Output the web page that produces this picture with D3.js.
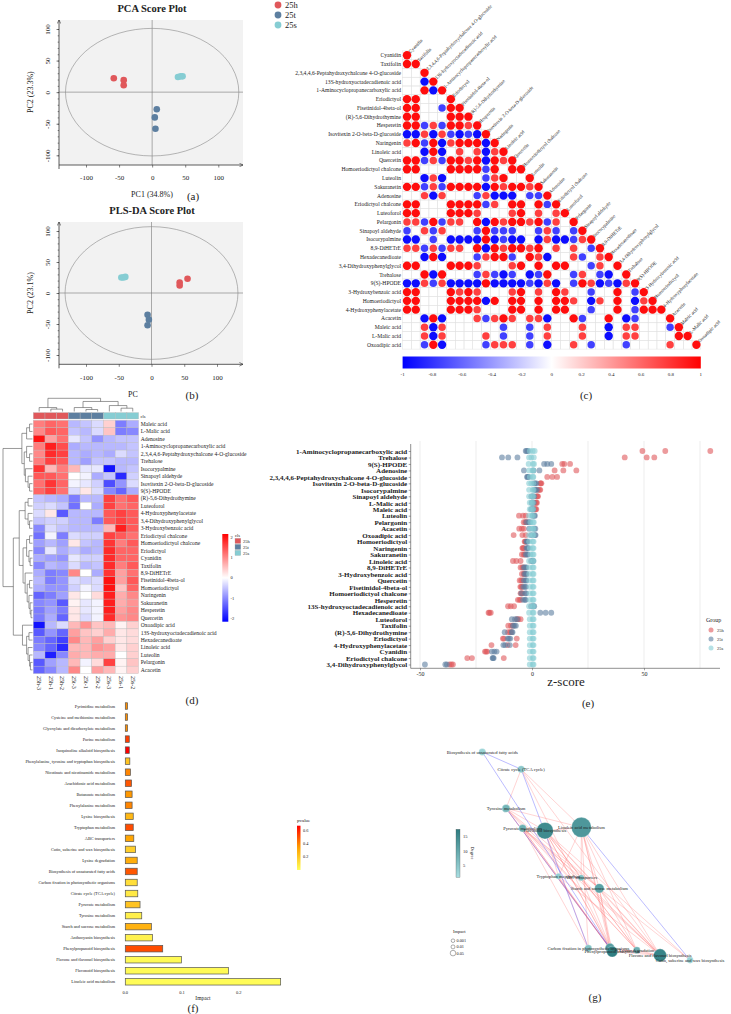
<!DOCTYPE html>
<meta charset="utf-8">
<script src="https://d3js.org/d3.v7.min.js"></script>
<style>
body { margin: 0; background: #fff; }
svg text { font-family: "Liberation Serif", "Times New Roman", serif; fill: #222; }
</style>
<div id="fig"></div>
<script>

// ---------------- data ----------------
var groups = ["25h", "25t", "25s"];
var groupColor = {"25h": "#e0585b", "25t": "#5d7fa0", "25s": "#86cdd3"};

// (a) PCA and (b) PLS-DA scores  [comp1, comp2]
var pcaH = [[-58, 22], [-43, 19], [-43, 11]];
var pcaT = [[7, -27], [4, -40], [5, -58]];
var pcaS = [[39, 24], [43, 25], [46, 25]];
var plsH = [[43, 17], [43, 12], [55, 23]];
var plsT = [[-6, -35], [-4, -43], [-6, -52]];
var plsS = [[-46, 25], [-43, 25], [-40, 26]];

// (c) correlation matrix, lower triangle (0 = not significant)
var corrNames = ["Cyanidin", "Taxifolin", "2,3,4,4,6-Peptahydroxychalcone 4-O-glucoside", "13S-hydroxyoctadecadienoic acid",
  "1-Aminocyclopropanecarboxylic acid", "Eriodictyol", "Fisetinidol-4beta-ol", "(R)-5,6-Dihydrothymine", "Hesperetin",
  "Isovitexin 2-O-beta-D-glucoside", "Naringenin", "Linoleic acid", "Quercetin", "Homoeriodictyol chalcone", "Luteolin",
  "Sakuranetin", "Adenosine", "Eriodictyol chalcone", "Luteoforol", "Pelargonin", "Sinapoyl aldehyde", "Isocorypalmine",
  "8,9-DiHETrE", "Hexadecanedioate", "3,4-Dihydroxyphenylglycol", "Trehalose", "9(S)-HPODE", "3-Hydroxybenzoic acid",
  "Homoeriodictyol", "4-Hydroxyphenylacetate", "Acacetin", "Maleic acid", "L-Malic acid", "Oxoadipic acid"];
var corrRows = [
  [.95],
  [.95,.95],
  [0,0,.95],
  [0,0,-.95,.95],
  [0,0,.95,-.95,.95],
  [.95,.95,0,0,0,.95],
  [.95,.95,0,0,-.75,.95,.95],
  [.95,.95,0,0,0,.95,.95,.95],
  [.95,.95,-.75,.75,-.75,.95,.95,.75,.95],
  [-.95,-.95,.75,-.95,.75,-.75,-.95,-.75,-.95,.95],
  [.75,.95,-.75,.95,-.95,.75,.95,.95,.95,-.95,.95],
  [0,0,-.95,.95,-.95,0,.75,0,.75,-.95,.75,.95],
  [.95,.95,-.75,.75,-.75,.95,.95,.75,.95,-.95,.95,.75,.95],
  [.95,.95,0,0,0,.95,.95,.95,.95,-.75,.95,0,.95,.95],
  [0,0,-.95,.75,-.95,0,0,0,0,-.75,.75,.95,0,0,.95],
  [.95,.95,-.75,.75,-.75,.95,.95,.95,.95,-.95,.95,.75,.95,.95,.75,.95],
  [0,0,.75,-.95,.75,0,0,0,-.75,.75,-.95,-.95,-.95,0,-.75,-.75,.95],
  [.95,.95,0,0,0,.95,.95,.95,.95,-.75,.75,0,.95,.95,0,.95,-.75,.95],
  [.95,.95,0,0,0,.95,.95,.95,.75,0,0,0,.75,.95,0,.75,0,.75,.95],
  [.75,.75,-.75,.95,-.75,.75,.75,0,.95,-.95,.95,.75,.95,.95,.75,.95,-.75,.75,0,.95],
  [-.75,0,.75,-.75,.75,0,0,0,-.75,.95,-.75,-.75,-.75,0,0,-.75,.75,-.75,0,-.75,.95],
  [-.95,-.95,0,-.75,0,-.95,-.95,-.95,-.95,.95,-.95,-.75,-.95,-.95,0,-.95,.75,-.95,-.95,-.75,.75,.95],
  [.75,.75,-.75,.75,-.75,.75,.75,0,.95,-.95,.95,.75,.95,.95,.75,.95,0,.75,0,.75,0,-.75,.95],
  [0,0,-.95,.95,-.95,0,0,0,-.75,.75,.95,.95,-.75,0,.95,.75,-.95,0,0,.75,-.75,0,.75,.95],
  [.95,.95,0,0,0,.95,.95,.95,.75,0,0,0,.75,.95,0,.95,0,.95,.95,0,0,-.75,.75,0,.95],
  [0,0,.95,-.95,.95,0,0,0,-.75,.75,-.75,-.95,-.75,0,-.95,-.75,.95,0,0,-.75,.75,0,-.75,-.95,0,.95],
  [-.95,-.95,.75,-.75,.75,-.95,-.95,-.95,-.95,.95,-.95,-.95,-.95,-.95,-.75,-.95,.75,-.95,0,-.75,.95,.75,-.95,-.75,-.95,.75,.95],
  [.95,.95,0,0,0,.95,.75,.95,.75,0,0,0,.75,.95,0,.75,0,.95,.75,0,0,-.75,0,0,.95,0,-.75,.95],
  [.95,.95,0,0,0,.95,.95,.95,.95,-.95,.95,0,.95,.95,0,.95,0,.95,.95,.75,0,-.95,.75,0,.95,0,-.95,.75,.95],
  [.95,.95,0,0,0,.95,.95,.95,.75,0,0,0,.95,.95,0,.95,0,.95,.95,0,0,-.75,0,0,.95,0,-.75,.95,.95,.95],
  [0,0,-.95,.95,-.95,0,0,0,.75,-.75,.75,.95,.75,0,.75,.75,-.95,0,0,.95,-.75,0,0,.95,0,-.95,-.75,0,0,0,.95],
  [0,0,.75,-.95,.75,0,0,0,0,0,0,-.75,0,0,-.75,0,.75,0,0,0,.75,0,0,-.95,0,.75,.75,0,0,0,-.75,.95],
  [0,0,.75,-.95,.75,0,0,0,0,.75,0,-.75,0,0,-.75,0,.75,0,0,0,.75,0,0,-.95,0,.75,.75,0,0,0,0,.95,.95],
  [0,0,-.75,.95,-.95,0,0,0,0,-.75,.75,.75,.75,0,-.75,0,-.95,0,0,.75,0,-.75,0,0,0,-.75,0,0,0,0,.75,0,0,.95]
];
var corrTicks = [-1, -0.8, -0.6, -0.4, -0.2, 0, 0.2, 0.4, 0.6, 0.8, 1];

// (d) heatmap (row z-scores)
var hmRows = ["Maleic acid", "L-Malic acid", "Adenosine", "1-Aminocyclopropanecarboxylic acid",
  "2,3,4,4,6-Peptahydroxychalcone 4-O-glucoside", "Trehalose", "Isocorypalmine", "Sinapoyl aldehyde",
  "Isovitexin 2-O-beta-D-glucoside", "9(S)-HPODE", "(R)-5,6-Dihydrothymine", "Luteoforol", "4-Hydroxyphenylacetate",
  "3,4-Dihydroxyphenylglycol", "3-Hydroxybenzoic acid", "Eriodictyol chalcone", "Homoeriodictyol chalcone", "Eriodictyol",
  "Cyanidin", "Taxifolin", "8,9-DiHETrE", "Fisetinidol-4beta-ol", "Homoeriodictyol", "Naringenin", "Sakuranetin",
  "Hesperetin", "Quercetin", "Oxoadipic acid", "13S-hydroxyoctadecadienoic acid", "Hexadecanedioate", "Linoleic acid",
  "Luteolin", "Pelargonin", "Acacetin"];
var hmCols = ["25h-3", "25h-1", "25h-2", "25t-3", "25t-1", "25t-2", "25s-3", "25s-1", "25s-2"];
var hmColGroup = ["25h", "25h", "25h", "25t", "25t", "25t", "25s", "25s", "25s"];
var hmValues = [
  [1.1,1.3,1.2,-0.6,-0.5,-0.3,0.4,-1.1,-0.7],
  [1.0,1.4,1.3,-0.5,-0.6,-0.3,0.5,-1.1,-1.0],
  [2.0,0.8,1.2,-0.2,-0.5,-0.9,-0.6,-0.5,-0.5],
  [1.1,1.9,1.5,-0.7,-0.6,-0.6,-0.6,-0.6,-0.5],
  [1.0,1.8,1.6,-0.6,-0.7,-0.6,-0.7,-0.3,-0.5],
  [1.1,1.6,1.4,-0.6,-0.8,-0.5,-0.5,-0.6,-0.6],
  [1.7,0.6,1.1,0.6,-0.2,-0.2,-2.0,-0.6,-0.5],
  [1.4,1.4,1.2,0.0,-0.1,-0.7,-0.5,-1.8,-0.4],
  [1.2,1.7,1.3,-0.1,-0.2,-0.4,-1.5,-0.9,-0.3],
  [1.3,1.6,1.2,-0.3,0.2,-0.3,-1.0,-1.3,-0.7],
  [-0.5,-0.6,-0.7,-1.1,-0.6,-0.6,1.6,1.2,1.4],
  [-0.4,-0.3,-0.5,-1.2,0.0,-0.7,1.6,1.2,1.3],
  [-0.3,0.2,-1.4,-0.6,-0.6,-0.6,1.4,1.6,1.4],
  [-0.5,-0.4,-0.4,-0.6,-0.6,-1.1,1.4,1.6,1.4],
  [-1.0,-0.3,-0.5,-0.6,-0.6,-0.6,0.6,1.9,1.4],
  [-1.2,-0.1,-1.1,-0.3,-0.4,-0.4,1.6,1.4,1.2],
  [-0.8,-0.6,-0.8,0.2,-0.5,-0.6,1.7,1.1,1.4],
  [-1.0,-0.2,-0.7,-0.5,-0.7,-0.6,1.8,1.3,1.3],
  [-0.7,-0.8,-0.9,-0.2,-0.4,-0.4,1.8,1.3,1.3],
  [-1.0,-0.6,-0.7,-0.3,-0.6,-0.5,1.8,1.1,1.4],
  [-0.7,-1.1,-1.0,1.0,0.0,-0.7,1.7,0.8,1.2],
  [-0.6,-1.1,-0.9,-0.3,-0.4,-0.3,2.0,0.8,1.4],
  [-0.7,-0.9,-0.9,-0.4,-0.1,-0.3,2.0,0.5,1.3],
  [-1.3,-1.1,-0.8,0.2,0.0,0.3,1.9,0.7,1.0],
  [-1.0,-0.9,-1.4,0.1,-0.2,-0.1,1.9,0.7,0.9],
  [-1.1,-0.8,-1.1,0.2,-0.2,-0.1,1.9,0.8,1.0],
  [-1.1,-0.7,-1.3,0.2,-0.3,-0.1,1.8,0.9,1.0],
  [-2.0,-0.6,-0.3,0.6,0.9,0.5,0.6,0.1,0.4],
  [-1.4,-0.9,-1.3,0.8,0.5,0.4,0.7,0.2,0.3],
  [-1.1,-1.3,-1.6,1.0,0.6,0.8,0.4,0.2,0.3],
  [-1.0,-1.3,-1.8,0.6,0.6,0.9,0.8,0.2,0.4],
  [-0.6,-1.9,-1.0,0.7,0.6,0.7,0.7,0.0,0.4],
  [-1.4,-0.8,-0.6,0.6,-0.1,0.3,1.6,0.1,0.5],
  [-1.3,-1.0,-0.6,1.0,0.0,0.8,0.6,0.1,0.4]
];
// dendrograms: [height, left, right], leaves are row / column indices
var rowTree = [10,
  [3.6, [2, [1, 0, 1], 2], [2.8, [2, 3, [1, 4, 5]], [2.4, 6, [1.5, 7, [1, 8, 9]]]]],
  [6.5,
    [4.5, [2.5, [1.5, 10, 11], [1.5, 12, [1, 13, 14]]],
          [3.2, [2, [1, 15, 16], [1.2, 17, [0.8, 18, 19]]], [2.5, 20, [1.8, [1, 21, 22], [1.2, 23, [0.8, 24, [0.5, 25, 26]]]]]]],
    [3.4, 27, [2, [1.2, 28, 29], [1.5, 30, [1, 31, [0.7, 32, 33]]]]]]];
var colTree = [10, [3, 0, [1.8, 1, 2]], [7.6, [3, 3, [1.5, 4, 5]], [4.5, 6, [2.5, 7, 8]]]];
var hmTicks = [2, 1, 0, -1, -2];

// (e) z-scores, three samples per group
var zNames = ["1-Aminocyclopropanecarboxylic acid", "Trehalose", "9(S)-HPODE", "Adenosine",
  "2,3,4,4,6-Peptahydroxychalcone 4-O-glucoside", "Isovitexin 2-O-beta-D-glucoside", "Isocorypalmine", "Sinapoyl aldehyde",
  "L-Malic acid", "Maleic acid", "Luteolin", "Pelargonin", "Acacetin", "Oxoadipic acid", "Homoeriodictyol", "Naringenin",
  "Sakuranetin", "Linoleic acid", "8,9-DiHETrE", "3-Hydroxybenzoic acid", "Quercetin", "Fisetinidol-4beta-ol",
  "Homoeriodictyol chalcone", "Hesperetin", "13S-hydroxyoctadecadienoic acid", "Hexadecanedioate", "Luteoforol",
  "Taxifolin", "(R)-5,6-Dihydrothymine", "Eriodictyol", "4-Hydroxyphenylacetate", "Cyanidin", "Eriodictyol chalcone",
  "3,4-Dihydroxyphenylglycol"];
var zH = [[49.3,59.5,79.6],[41.4,51.2,54.6],[13.5,14.4,17.0],[10.1,14.0,19.8],[6.8,9.1,11.2],[3.7,3.9,4.2],[2.7,3.4,3.7],
  [2.1,2.4,2.7],[1.6,1.9,2.2],[1.3,1.6,1.9],[-5.8,-4.0,-2.8],[-3.7,-3.0,-2.5],[-5.7,-4.5,-3.7],[-8.2,-4.3,-2.8],
  [-3.3,-3.0,-2.8],[-4.3,-4.0,-3.7],[-4.5,-3.7,-3.2],[-8.5,-7.0,-5.1],[-5.1,-4.3,-3.8],[-4.5,-3.7,-3.2],[-5.5,-4.8,-4.2],
  [-5.2,-4.8,-4.4],[-5.1,-4.6,-4.2],[-6.3,-5.6,-5.0],[-10.7,-9.5,-8.0],[-19.4,-19.0,-18.4],[-6.8,-6.1,-5.1],
  [-10.6,-9.4,-8.5],[-10.7,-9.8,-9.3],[-13.0,-12.5,-6.8],[-18.1,-10.9,-7.3],[-21.0,-20.5,-20.0],[-28.9,-26.8,-12.6],
  [-36.8,-36.0,-35.3]];
var zT = [[-2.8,-2.4,-1.8],[-13.4,-10.6,-6.5],[5.4,6.8,8.6],[-3.6,0.7,3.3],[-2.2,-2.0,-1.6],[1.0,1.5,2.0],[1.2,1.7,2.2],
  [-0.3,0.4,1.0],[-0.2,0.3,0.8],[-0.4,0.1,0.6],[0.4,1.0,1.3],[-2.5,-1.5,-1.0],[-1.3,1.0,1.5],[-0.4,1.3,1.6],
  [-2.5,-2.2,-2.0],[-2.5,-2.0,-1.7],[-2.8,-2.2,-1.8],[-0.4,0.3,0.6],[-3.6,-3.0,-2.5],[-3.4,-2.8,-2.4],[-3.6,-2.8,-2.5],
  [-3.9,-3.1,-2.7],[-4.8,-3.0,-2.6],[-4.0,-3.1,-2.8],[-0.4,0.6,1.0],[3.7,6.1,8.6],[-9.0,-7.6,-6.6],[-8.5,-7.8,-7.2],
  [-12.2,-9.0,-8.7],[-10.9,-10.3,-9.7],[-12.8,-12.0,-9.9],[-17.9,-16.8,-15.8],[-17.6,-17.4,-17.1],[-47.8,-38.7,-38.0]];
var zS = [[-1.0,0.3,1.2],[-1.3,-0.3,0.8],[-1.5,0.4,0.9],[-1.3,0.2,0.6],[-1.0,0.4,0.6],[-1.3,-0.3,0.6],[-1.3,0.3,0.7],
  [-1.3,0.1,0.6],[-1.0,-0.1,0.4],[-1.0,-0.1,0.5],[-1.3,-0.1,0.5],[-0.7,0.4,0.8],[-0.7,0.4,0.8],[-1.3,0.3,0.7],
  [-1.3,0.3,0.7],[-1.0,0.3,0.7],[-0.7,0.3,0.7],[-1.3,0.3,0.7],[-1.3,0.3,0.7],[-1.3,0.3,0.7],[-1.3,0.3,0.7],
  [-1.0,0.3,0.7],[-1.0,0.3,0.7],[-1.0,0.3,0.7],[-1.3,0.3,0.7],[-1.3,0.3,0.7],[-1.0,0.3,0.7],[-1.0,0.3,0.7],
  [-1.0,0.3,0.7],[-1.0,0.3,0.7],[-1.0,0.3,0.7],[-1.0,0.3,0.7],[-1.0,0.3,0.7],[-1.0,0.3,0.7]];
var zGrid = [-50, -25, 0, 25, 50, 75];

// (f) pathway impact and p value
var pathNames = ["Pyrimidine metabolism", "Cysteine and methionine metabolism", "Glyoxylate and dicarboxylate metabolism",
  "Purine metabolism", "Isoquinoline alkaloid biosynthesis", "Phenylalanine, tyrosine and tryptophan biosynthesis",
  "Nicotinate and nicotinamide metabolism", "Arachidonic acid metabolism", "Butanoate metabolism",
  "Phenylalanine metabolism", "Lysine biosynthesis", "Tryptophan metabolism", "ABC transporters",
  "Cutin, suberine and wax biosynthesis", "Lysine degradation", "Biosynthesis of unsaturated fatty acids",
  "Carbon fixation in photosynthetic organisms", "Citrate cycle (TCA cycle)", "Pyruvate metabolism",
  "Tyrosine metabolism", "Starch and sucrose metabolism", "Anthocyanin biosynthesis", "Phenylpropanoid biosynthesis",
  "Flavone and flavonol biosynthesis", "Flavonoid biosynthesis", "Linoleic acid metabolism"];
var pathImpact = [0.004, 0.004, 0.004, 0.007, 0.007, 0.008, 0.009, 0.011, 0.012, 0.012, 0.014, 0.014, 0.015, 0.018,
  0.021, 0.021, 0.021, 0.022, 0.026, 0.029, 0.046, 0.048, 0.066, 0.099, 0.182, 0.274];
var pathP = [0.38, 0.38, 0.38, 0.55, 0.68, 0.22, 0.4, 0.5, 0.36, 0.4, 0.26, 0.52, 0.33, 0.18, 0.3, 0.5, 0.12, 0.08,
  0.22, 0.06, 0.28, 0.05, 0.52, 0.02, 0.02, 0.01];
var pTicks = [0.2, 0.4, 0.6];

// (g) pathway network: layout position (0-100), impact, degree
var netNodes = [
  {name: "Biosynthesis of unsaturated fatty acids", px: 15.1, py: 5.0, impact: 0.021, degree: 3},
  {name: "Citrate cycle (TCA cycle)", px: 29.0, py: 12.2, impact: 0.022, degree: 5},
  {name: "Tyrosine metabolism", px: 23.6, py: 28.5, impact: 0.029, degree: 8},
  {name: "Pyruvate metabolism", px: 29.5, py: 36.8, impact: 0.026, degree: 9},
  {name: "Flavonoid biosynthesis", px: 37.5, py: 37.8, impact: 0.182, degree: 15},
  {name: "Linoleic acid metabolism", px: 50.5, py: 36.4, impact: 0.274, degree: 13},
  {name: "Tryptophan metabolism", px: 42.3, py: 56.8, impact: 0.014, degree: 4},
  {name: "ABC transporters", px: 50.4, py: 57.4, impact: 0.015, degree: 6},
  {name: "Starch and sucrose metabolism", px: 56.9, py: 61.8, impact: 0.046, degree: 11},
  {name: "Carbon fixation in photosynthetic organisms", px: 53.0, py: 86.8, impact: 0.021, degree: 6},
  {name: "Anthocyanin biosynthesis", px: 60.7, py: 86.7, impact: 0.048, degree: 12},
  {name: "Phenylpropanoid biosynthesis", px: 61.5, py: 88.2, impact: 0.066, degree: 17},
  {name: "Lysine degradation", px: 70.3, py: 87.6, impact: 0.021, degree: 9},
  {name: "Flavone and flavonol biosynthesis", px: 78.6, py: 89.7, impact: 0.099, degree: 16},
  {name: "Cutin, suberine and wax biosynthesis", px: 89.3, py: 91.7, impact: 0.018, degree: 3}
];
var netLabels = {"Anthocyanin biosynthesis": ""};
var netPos = [
  ["Citrate cycle (TCA cycle)", "Tyrosine metabolism"], ["Citrate cycle (TCA cycle)", "Linoleic acid metabolism"],
  ["Citrate cycle (TCA cycle)", "Flavone and flavonol biosynthesis"], ["Citrate cycle (TCA cycle)", "Phenylpropanoid biosynthesis"],
  ["Tyrosine metabolism", "Flavonoid biosynthesis"], ["Tyrosine metabolism", "Linoleic acid metabolism"],
  ["Tyrosine metabolism", "Phenylpropanoid biosynthesis"], ["Tyrosine metabolism", "Anthocyanin biosynthesis"],
  ["Tyrosine metabolism", "Flavone and flavonol biosynthesis"], ["Tyrosine metabolism", "Lysine degradation"],
  ["Tyrosine metabolism", "Starch and sucrose metabolism"],
  ["Pyruvate metabolism", "Flavonoid biosynthesis"], ["Pyruvate metabolism", "Phenylpropanoid biosynthesis"],
  ["Pyruvate metabolism", "Flavone and flavonol biosynthesis"], ["Pyruvate metabolism", "Lysine degradation"],
  ["Pyruvate metabolism", "Anthocyanin biosynthesis"], ["Pyruvate metabolism", "Starch and sucrose metabolism"],
  ["Pyruvate metabolism", "ABC transporters"], ["Pyruvate metabolism", "Carbon fixation in photosynthetic organisms"],
  ["Flavonoid biosynthesis", "Linoleic acid metabolism"], ["Flavonoid biosynthesis", "Tryptophan metabolism"],
  ["Flavonoid biosynthesis", "ABC transporters"], ["Flavonoid biosynthesis", "Starch and sucrose metabolism"],
  ["Flavonoid biosynthesis", "Phenylpropanoid biosynthesis"], ["Flavonoid biosynthesis", "Anthocyanin biosynthesis"],
  ["Flavonoid biosynthesis", "Lysine degradation"], ["Flavonoid biosynthesis", "Flavone and flavonol biosynthesis"],
  ["Flavonoid biosynthesis", "Carbon fixation in photosynthetic organisms"], ["Flavonoid biosynthesis", "Cutin, suberine and wax biosynthesis"],
  ["Linoleic acid metabolism", "Tryptophan metabolism"], ["Linoleic acid metabolism", "ABC transporters"],
  ["Linoleic acid metabolism", "Starch and sucrose metabolism"], ["Linoleic acid metabolism", "Phenylpropanoid biosynthesis"],
  ["Linoleic acid metabolism", "Anthocyanin biosynthesis"], ["Linoleic acid metabolism", "Lysine degradation"],
  ["Linoleic acid metabolism", "Flavone and flavonol biosynthesis"], ["Linoleic acid metabolism", "Carbon fixation in photosynthetic organisms"],
  ["Tryptophan metabolism", "Phenylpropanoid biosynthesis"], ["Tryptophan metabolism", "Flavone and flavonol biosynthesis"],
  ["ABC transporters", "Phenylpropanoid biosynthesis"], ["ABC transporters", "Flavone and flavonol biosynthesis"],
  ["ABC transporters", "Lysine degradation"],
  ["Starch and sucrose metabolism", "Phenylpropanoid biosynthesis"], ["Starch and sucrose metabolism", "Flavone and flavonol biosynthesis"],
  ["Starch and sucrose metabolism", "Anthocyanin biosynthesis"], ["Starch and sucrose metabolism", "Lysine degradation"],
  ["Starch and sucrose metabolism", "Cutin, suberine and wax biosynthesis"],
  ["Phenylpropanoid biosynthesis", "Flavone and flavonol biosynthesis"], ["Phenylpropanoid biosynthesis", "Lysine degradation"],
  ["Anthocyanin biosynthesis", "Flavone and flavonol biosynthesis"], ["Lysine degradation", "Flavone and flavonol biosynthesis"]
];
var netNeg = [
  ["Biosynthesis of unsaturated fatty acids", "Citrate cycle (TCA cycle)"],
  ["Biosynthesis of unsaturated fatty acids", "Phenylpropanoid biosynthesis"],
  ["Citrate cycle (TCA cycle)", "Carbon fixation in photosynthetic organisms"],
  ["Tyrosine metabolism", "Anthocyanin biosynthesis"],
  ["Linoleic acid metabolism", "Cutin, suberine and wax biosynthesis"]
];
var degreeTicks = [5, 10, 15];
var impactLegend = [0.001, 0.01, 0.05];

// ---------------- drawing ----------------
var svg = d3.select("#fig").append("svg").attr("width", 731).attr("height", 1014);
var defs = svg.append("defs");
defs.append("marker").attr("id", "arr").attr("viewBox", "0 0 8 8").attr("refX", 7).attr("refY", 4)
  .attr("markerWidth", 6).attr("markerHeight", 6).attr("orient", "auto")
  .append("path").attr("d", "M1,1 L7,4 L1,7").attr("fill", "none").attr("stroke", "#333").attr("stroke-width", 1);

function label(x, y, txt, size, opts) {
  opts = opts || {};
  return svg.append("text").attr("x", x).attr("y", y).attr("font-size", size)
    .attr("text-anchor", opts.anchor || "middle").attr("font-weight", opts.bold ? "bold" : null).text(txt);
}

// ----- (a) / (b) score plots -----
function scorePlot(o) {
  var g = svg.append("g");
  var x = d3.scaleLinear().domain([-100, 100]).range(o.xr);
  var y = d3.scaleLinear().domain([-100, 100]).range(o.yr);
  g.append("rect").attr("x", o.left).attr("y", o.top).attr("width", o.right - o.left).attr("height", o.bottom - o.top)
    .attr("fill", "#f2f2f2");
  g.append("line").attr("x1", x(0)).attr("x2", x(0)).attr("y1", o.top).attr("y2", o.bottom).attr("stroke", "#777").attr("stroke-width", 0.6);
  g.append("line").attr("x1", o.left).attr("x2", o.right).attr("y1", y(0)).attr("y2", y(0)).attr("stroke", "#777").attr("stroke-width", 0.6);
  g.append("ellipse").attr("cx", x(0)).attr("cy", y(0)).attr("rx", x(o.ell[0]) - x(0)).attr("ry", y(0) - y(o.ell[1]))
    .attr("fill", "none").attr("stroke", "#888").attr("stroke-width", 0.6);

  var xa = g.append("g").attr("transform", "translate(0," + o.bottom + ")")
    .call(d3.axisBottom(x).tickValues([-100, -50, 0, 50, 100]).tickSize(2.5).tickPadding(8).tickFormat(String));
  xa.select(".domain").remove();
  xa.selectAll("text").attr("font-size", 7).attr("font-family", "Liberation Serif");
  var ya = g.append("g").attr("transform", "translate(" + o.left + ",0)")
    .call(d3.axisLeft(y).tickValues([-100, -50, 0, 50, 100]).tickSize(2.5).tickFormat(String));
  ya.select(".domain").remove();
  ya.selectAll("text").attr("x", 0).attr("y", -9).attr("dy", 0).attr("text-anchor", "middle")
    .attr("transform", "rotate(-90)").attr("font-size", 7).attr("font-family", "Liberation Serif");
  var ym = g.append("g").attr("transform", "translate(" + o.left + ",0)")
    .call(d3.axisLeft(y).tickValues(d3.range(-100, 101, 10)).tickSize(1.3).tickFormat(""));
  ym.select(".domain").remove();
  g.selectAll(".tick line").attr("stroke", "#333").attr("stroke-width", 0.6);
  g.append("line").attr("x1", o.left).attr("x2", o.right).attr("y1", o.bottom).attr("y2", o.bottom)
    .attr("stroke", "#333").attr("stroke-width", 0.8).attr("marker-end", "url(#arr)");
  g.append("line").attr("x1", o.left).attr("x2", o.left).attr("y1", o.bottom + 4).attr("y2", o.top)
    .attr("stroke", "#333").attr("stroke-width", 0.8).attr("marker-end", "url(#arr)");

  [["25h", o.h], ["25t", o.t], ["25s", o.s]].forEach(function(p) {
    g.selectAll(null).data(p[1]).join("circle")
      .attr("cx", function(d) { return x(d[0]); }).attr("cy", function(d) { return y(d[1]); })
      .attr("r", 3.3).attr("fill", groupColor[p[0]]);
  });
  label(152, o.title[1], o.title[0], 10.5, {bold: true});
  label(o.xlab[1], o.xlab[2], o.xlab[0], 8);
  svg.append("text").attr("transform", "translate(33," + y(0) + ") rotate(-90)").attr("text-anchor", "middle")
    .attr("font-size", 8).text(o.ylab);
  label(o.tag[1], o.tag[2], o.tag[0], 11);
}

scorePlot({xr: [86, 218.3], yr: [155.3, 29], left: 59, right: 243, top: 20, bottom: 165, ell: [131, 101],
  h: pcaH, t: pcaT, s: pcaS, title: ["PCA Score Plot", 12], xlab: ["PC1 (34.8%)", 152, 197], ylab: "PC2 (23.3%)",
  tag: ["(a)", 193, 200]});
scorePlot({xr: [86, 217], yr: [355, 231], left: 59, right: 243, top: 222, bottom: 364.3, ell: [132, 107],
  h: plsH, t: plsT, s: plsS, title: ["PLS-DA Score Plot", 214], xlab: ["PC", 133, 397], ylab: "PC2 (23.1%)",
  tag: ["(b)", 192, 399]});

// group legend
var lg = svg.append("g");
lg.selectAll("circle").data(groups).join("circle")
  .attr("cx", 278).attr("cy", function(d, i) { return 5 + i * 10; }).attr("r", 3.4)
  .attr("fill", function(d) { return groupColor[d]; });
lg.selectAll("text").data(groups).join("text")
  .attr("x", 285).attr("y", function(d, i) { return 8 + i * 10; }).attr("font-size", 8.5).text(function(d) { return d; });

// ----- (c) correlation matrix -----
var cX = d3.scaleBand().domain(d3.range(34)).range([402.6, 700.8]);
var cY = d3.scaleBand().domain(d3.range(34)).range([50.9, 349.1]);
var cbw = cX.bandwidth();
var corrColor = d3.scaleLinear().domain([-1, 0, 1]).range(["#0000ff", "#ffffff", "#ff0000"]);
var corrR = d3.scaleSqrt().domain([0, 1]).range([0, 4.3]);
var cells = [];
corrRows.forEach(function(row, i) { row.forEach(function(v, j) { cells.push({i: i, j: j, v: v}); }); });
var gc = svg.append("g");
gc.selectAll("rect").data(cells).join("rect")
  .attr("x", function(d) { return cX(d.j); }).attr("y", function(d) { return cY(d.i); })
  .attr("width", cbw).attr("height", cbw).attr("fill", "none").attr("stroke", "#e2e2e2").attr("stroke-width", 0.5);
gc.selectAll("circle").data(cells.filter(function(d) { return d.v !== 0; })).join("circle")
  .attr("cx", function(d) { return cX(d.j) + cbw / 2; }).attr("cy", function(d) { return cY(d.i) + cbw / 2; })
  .attr("r", function(d) { return corrR(Math.abs(d.v)); }).attr("fill", function(d) { return corrColor(d.v); });
gc.selectAll("text.row").data(corrNames).join("text").attr("class", "row")
  .attr("x", 401).attr("y", function(d, i) { return cY(i) + cbw / 2; }).attr("dy", "0.35em")
  .attr("text-anchor", "end").attr("font-size", 5.6).text(function(d) { return d; });
gc.selectAll("text.col").data(corrNames).join("text").attr("class", "col")
  .attr("transform", function(d, i) { return "translate(" + (cX(i) + cbw / 2 + 2.5) + "," + (cY(i) + cbw / 2 - 3) + ") rotate(-45)"; })
  .attr("dy", "0.3em").attr("font-size", 4.8).text(function(d) { return d; });

var cbScale = d3.scaleLinear().domain([-1, 1]).range([402.6, 700.8]);
var grad = defs.append("linearGradient").attr("id", "corrGrad");
grad.selectAll("stop").data([-1, 0, 1]).join("stop")
  .attr("offset", function(d) { return ((d + 1) / 2 * 100) + "%"; }).attr("stop-color", function(d) { return corrColor(d); });
svg.append("rect").attr("x", cbScale(-1)).attr("y", 356.5).attr("width", cbScale(1) - cbScale(-1)).attr("height", 12)
  .attr("fill", "url(#corrGrad)");
svg.selectAll("text.cbt").data(corrTicks).join("text").attr("class", "cbt")
  .attr("x", function(d) { return cbScale(d); }).attr("y", 376).attr("text-anchor", "middle").attr("font-size", 5)
  .text(function(d) { return String(d); });
label(586, 399, "(c)", 11);

// ----- (d) heatmap -----
var hX = d3.scaleBand().domain(d3.range(9)).range([33.3, 138.6]);
var hY = d3.scaleBand().domain(d3.range(34)).range([420.3, 673.6]);
var hmColor = d3.scaleLinear().domain([-2.15, 0, 2.15]).range(["#0000ff", "#ffffff", "#ff0000"]);
var gh = svg.append("g");
var hcells = [];
hmValues.forEach(function(row, i) { row.forEach(function(v, j) { hcells.push({i: i, j: j, v: v}); }); });
gh.selectAll("rect.c").data(hcells).join("rect").attr("class", "c")
  .attr("x", function(d) { return hX(d.j); }).attr("y", function(d) { return hY(d.i); })
  .attr("width", hX.bandwidth()).attr("height", hY.bandwidth())
  .attr("fill", function(d) { return hmColor(d.v); }).attr("stroke", "#b8b8b8").attr("stroke-width", 0.35);
gh.selectAll("rect.a").data(hmColGroup).join("rect").attr("class", "a")
  .attr("x", function(d, j) { return hX(j); }).attr("y", 412.6).attr("width", hX.bandwidth()).attr("height", 6.4)
  .attr("fill", function(d) { return groupColor[d]; }).attr("stroke", "#b8b8b8").attr("stroke-width", 0.35);
label(140.5, 417.5, "cls", 4.5, {anchor: "start"});
gh.selectAll("text.r").data(hmRows).join("text").attr("class", "r")
  .attr("x", 140.7).attr("y", function(d, i) { return hY(i) + hY.bandwidth() / 2; }).attr("dy", "0.35em")
  .attr("font-size", 5.6).text(function(d) { return d; });
gh.selectAll("text.cl").data(hmCols).join("text").attr("class", "cl")
  .attr("transform", function(d, j) { return "translate(" + (hX(j) + hX.bandwidth() / 2) + ",676) rotate(90)"; })
  .attr("dy", "0.35em").attr("font-size", 6).text(function(d) { return d; });

function dendro(node, posOf, hScale, out) {
  if (typeof node === "number") return {p: posOf(node), h: hScale(0)};
  var a = dendro(node[1], posOf, hScale, out), b = dendro(node[2], posOf, hScale, out);
  var h = hScale(node[0]);
  out.push({a: a, b: b, h: h});
  return {p: (a.p + b.p) / 2, h: h};
}
var rowLinks = [];
dendro(rowTree, function(i) { return hY(i) + hY.bandwidth() / 2; }, d3.scaleLinear().domain([0, 10]).range([32.5, 3]), rowLinks);
gh.selectAll("path.rd").data(rowLinks).join("path").attr("class", "rd")
  .attr("d", function(d) { return "M" + d.a.h + "," + d.a.p + "H" + d.h + "V" + d.b.p + "H" + d.b.h; })
  .attr("fill", "none").attr("stroke", "#555").attr("stroke-width", 0.6);
var colLinks = [];
dendro(colTree, function(j) { return hX(j) + hX.bandwidth() / 2; }, d3.scaleLinear().domain([0, 10]).range([411.5, 398.3]), colLinks);
gh.selectAll("path.cd").data(colLinks).join("path").attr("class", "cd")
  .attr("d", function(d) { return "M" + d.a.p + "," + d.a.h + "V" + d.h + "H" + d.b.p + "V" + d.b.h; })
  .attr("fill", "none").attr("stroke", "#555").attr("stroke-width", 0.6);

var hmLeg = d3.scaleLinear().domain([-2.15, 2.15]).range([621.7, 534]);
var hgrad = defs.append("linearGradient").attr("id", "hmGrad").attr("x1", 0).attr("x2", 0).attr("y1", 1).attr("y2", 0);
hgrad.selectAll("stop").data([-2.15, 0, 2.15]).join("stop")
  .attr("offset", function(d, i) { return (i * 50) + "%"; }).attr("stop-color", function(d) { return hmColor(d); });
svg.append("rect").attr("x", 222.3).attr("y", hmLeg(2.15)).attr("width", 6).attr("height", hmLeg(-2.15) - hmLeg(2.15))
  .attr("fill", "url(#hmGrad)");
svg.selectAll("text.hmt").data(hmTicks).join("text").attr("class", "hmt")
  .attr("x", 230.5).attr("y", function(d) { return hmLeg(d); }).attr("dy", "0.35em").attr("font-size", 4.5)
  .text(function(d) { return String(d); });
label(235, 536.5, "cls", 4.5, {anchor: "start"});
svg.selectAll("rect.clsleg").data(groups).join("rect").attr("class", "clsleg")
  .attr("x", 235).attr("y", function(d, i) { return 538.3 + i * 6; }).attr("width", 5.8).attr("height", 5.2)
  .attr("fill", function(d) { return groupColor[d]; }).attr("stroke", "#aaa").attr("stroke-width", 0.3);
svg.selectAll("text.clsleg").data(groups).join("text").attr("class", "clsleg")
  .attr("x", 243).attr("y", function(d, i) { return 541 + i * 6; }).attr("dy", "0.35em").attr("font-size", 4.5)
  .text(function(d) { return d; });
label(192, 704, "(d)", 11);

// ----- (e) z-score plot -----
var zX = d3.scaleLinear().domain([-50, 50]).range([420, 644]);
var zY = d3.scalePoint().domain(zNames).range([451, 664.5]);
var ge = svg.append("g");
ge.selectAll("line.grid").data(zGrid).join("line").attr("class", "grid")
  .attr("x1", function(d) { return zX(d); }).attr("x2", function(d) { return zX(d); })
  .attr("y1", 441).attr("y2", 668.3).attr("stroke", "#e8e8e8").attr("stroke-width", 0.8);
[["25h", zH], ["25t", zT], ["25s", zS]].forEach(function(p) {
  var pts = [];
  p[1].forEach(function(vals, i) { vals.forEach(function(v) { pts.push({name: zNames[i], v: v}); }); });
  ge.selectAll(null).data(pts).join("circle")
    .attr("cx", function(d) { return zX(d.v); }).attr("cy", function(d) { return zY(d.name); })
    .attr("r", 2.9).attr("fill", groupColor[p[0]]).attr("fill-opacity", 0.6);
});
var zxa = ge.append("g").attr("transform", "translate(0,668.3)")
  .call(d3.axisBottom(zX).tickValues([-50, 0, 50]).tickSize(2).tickPadding(1.5).tickFormat(String));
zxa.select(".domain").remove();
zxa.selectAll("text").attr("font-size", 6);
var zya = ge.append("g").attr("transform", "translate(410.7,0)").call(d3.axisLeft(zY).tickSize(2).tickPadding(1.5));
zya.select(".domain").remove();
zya.selectAll("text").attr("font-size", 7).attr("font-weight", "bold");
ge.selectAll(".tick line").attr("stroke", "#444").attr("stroke-width", 0.5);
ge.append("line").attr("x1", 410.7).attr("x2", 720).attr("y1", 668.3).attr("y2", 668.3).attr("stroke", "#444").attr("stroke-width", 0.6);
ge.append("line").attr("x1", 410.7).attr("x2", 410.7).attr("y1", 444).attr("y2", 668.3).attr("stroke", "#444").attr("stroke-width", 0.6);
label(566, 686, "z-score", 13);
label(588, 707, "(e)", 11);
label(706, 622, "Group", 6, {anchor: "start"});
ge.selectAll("circle.leg").data(groups).join("circle").attr("class", "leg")
  .attr("cx", 711).attr("cy", function(d, i) { return 630 + i * 9; }).attr("r", 2.5)
  .attr("fill", function(d) { return groupColor[d]; }).attr("fill-opacity", 0.6);
ge.selectAll("text.leg").data(groups).join("text").attr("class", "leg")
  .attr("x", 717).attr("y", function(d, i) { return 630 + i * 9; }).attr("dy", "0.35em").attr("font-size", 4.5)
  .text(function(d) { return d; });

// ----- (f) pathway bars -----
var fY = d3.scaleBand().domain(pathNames).range([700.5, 987.3]).paddingInner(0.41).paddingOuter(0.205);
var fX = d3.scaleLinear().domain([0, 0.2]).range([125.3, 238.7]);
var pColor = d3.scaleLinear().domain([0, 0.34, 0.68]).range(["#ffff5a", "#ffa200", "#ff0000"]);
var gf = svg.append("g");
gf.selectAll("rect").data(pathNames).join("rect")
  .attr("x", fX(0)).attr("y", function(d) { return fY(d); })
  .attr("width", function(d, i) { return fX(pathImpact[i]) - fX(0); }).attr("height", fY.bandwidth())
  .attr("fill", function(d, i) { return pColor(pathP[i]); }).attr("stroke", "#555").attr("stroke-width", 0.7);
gf.selectAll("text.n").data(pathNames).join("text").attr("class", "n")
  .attr("x", 115).attr("y", function(d) { return fY(d) + fY.bandwidth() / 2; }).attr("dy", "0.35em")
  .attr("text-anchor", "end").attr("font-size", 4.3).text(function(d) { return d; });
gf.selectAll("text.t").data(fX.ticks(2)).join("text").attr("class", "t")
  .attr("x", function(d) { return fX(d); }).attr("y", 994).attr("text-anchor", "middle").attr("font-size", 4.5)
  .text(d3.format(".1f"));
label(203, 1000, "Impact", 5.5);
label(193, 1012, "(f)", 11);
var pLeg = d3.scaleLinear().domain([0, 0.68]).range([870, 825.7]);
var pgrad = defs.append("linearGradient").attr("id", "pGrad").attr("x1", 0).attr("x2", 0).attr("y1", 1).attr("y2", 0);
pgrad.selectAll("stop").data([0, 0.34, 0.68]).join("stop")
  .attr("offset", function(d) { return (d / 0.68 * 100) + "%"; }).attr("stop-color", function(d) { return pColor(d); });
svg.append("rect").attr("x", 297).attr("y", pLeg(0.68)).attr("width", 3.5).attr("height", pLeg(0) - pLeg(0.68))
  .attr("fill", "url(#pGrad)");
svg.selectAll("text.pt").data(pTicks).join("text").attr("class", "pt")
  .attr("x", 303).attr("y", function(d) { return pLeg(d); }).attr("dy", "0.35em").attr("font-size", 4.3)
  .text(d3.format(".1f"));
label(297, 821.5, "pvalue", 5, {anchor: "start"});

// ----- (g) pathway network -----
var gX = d3.scaleLinear().domain([0, 100]).range([440, 720]);
var gY = d3.scaleLinear().domain([0, 100]).range([740, 980]);
var nodeR = d3.scaleSqrt().domain([0, 0.274]).range([1, 10]);
var degColor = d3.scaleLinear().domain([1, 17.5]).range(["#a9dfe2", "#2c7c80"]);
var byName = {};
netNodes.forEach(function(n) { byName[n.name] = n; });
var links = netPos.map(function(e) { return {a: byName[e[0]], b: byName[e[1]], neg: false}; })
  .concat(netNeg.map(function(e) { return {a: byName[e[0]], b: byName[e[1]], neg: true}; }));
var gg = svg.append("g");
gg.selectAll("line").data(links).join("line")
  .attr("x1", function(d) { return gX(d.a.px); }).attr("y1", function(d) { return gY(d.a.py); })
  .attr("x2", function(d) { return gX(d.b.px); }).attr("y2", function(d) { return gY(d.b.py); })
  .attr("stroke", function(d) { return d.neg ? "#5a5aff" : "#ff7070"; })
  .attr("stroke-opacity", function(d) { return d.neg ? 0.75 : 0.55; }).attr("stroke-width", 0.55);
gg.selectAll("circle").data(netNodes).join("circle")
  .attr("cx", function(d) { return gX(d.px); }).attr("cy", function(d) { return gY(d.py); })
  .attr("r", function(d) { return nodeR(d.impact); }).attr("fill", function(d) { return degColor(d.degree); })
  .attr("stroke", "#fff").attr("stroke-width", 0.3);
gg.selectAll("text").data(netNodes.filter(function(d) { return !(d.name in netLabels); })).join("text")
  .attr("x", function(d) { return gX(d.px); }).attr("y", function(d) { return gY(d.py); }).attr("dy", "0.35em")
  .attr("text-anchor", "middle").attr("font-size", 4.6).text(function(d) { return d.name; });

var dLeg = d3.scaleLinear().domain([1, 17.5]).range([877.4, 829.3]);
var dgrad = defs.append("linearGradient").attr("id", "dGrad").attr("x1", 0).attr("x2", 0).attr("y1", 1).attr("y2", 0);
dgrad.selectAll("stop").data([1, 17.5]).join("stop")
  .attr("offset", function(d, i) { return (i * 100) + "%"; }).attr("stop-color", function(d) { return degColor(d); });
svg.append("rect").attr("x", 456).attr("y", dLeg(17.5)).attr("width", 4).attr("height", dLeg(1) - dLeg(17.5))
  .attr("fill", "url(#dGrad)").attr("stroke", "#555").attr("stroke-width", 0.3);
svg.selectAll("text.dt").data(degreeTicks).join("text").attr("class", "dt")
  .attr("x", 463).attr("y", function(d) { return dLeg(d); }).attr("dy", "0.35em").attr("font-size", 4.5)
  .text(function(d) { return d; });
svg.append("text").attr("transform", "translate(471,853) rotate(90)").attr("text-anchor", "middle")
  .attr("font-size", 4.5).text("Degree");
label(459.3, 933, "Impact", 4.5);
var legR = d3.scaleLinear().domain([0.001, 0.05]).range([1.8, 2.8]);
svg.selectAll("circle.il").data(impactLegend).join("circle").attr("class", "il")
  .attr("cx", 453).attr("cy", function(d, i) { return 940.7 + i * 6.2; }).attr("r", function(d) { return legR(d); })
  .attr("fill", "none").attr("stroke", "#333").attr("stroke-width", 0.4);
svg.selectAll("text.il").data(impactLegend).join("text").attr("class", "il")
  .attr("x", 456.5).attr("y", function(d, i) { return 940.7 + i * 6.2; }).attr("dy", "0.35em").attr("font-size", 4.3)
  .text(function(d) { return String(d); });
label(595, 1001, "(g)", 11);

</script>
